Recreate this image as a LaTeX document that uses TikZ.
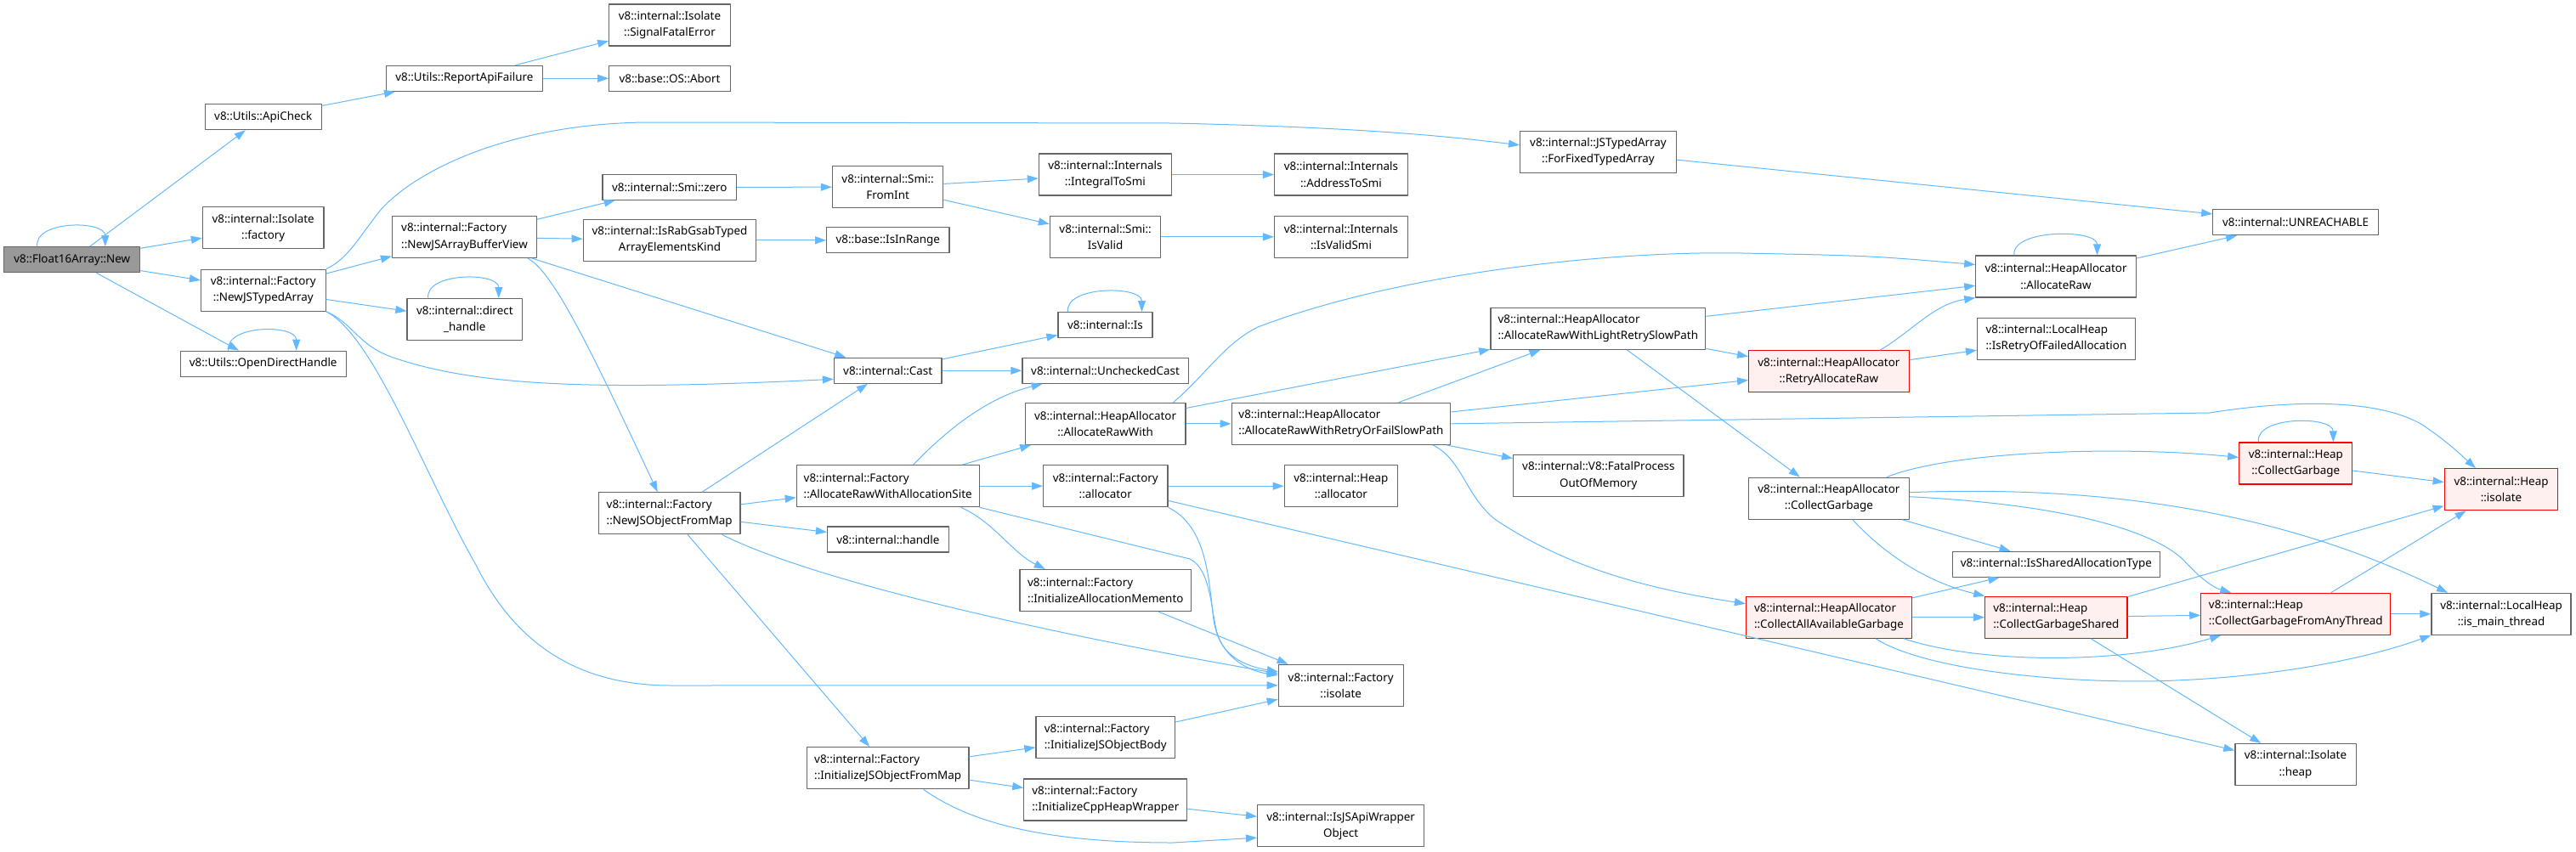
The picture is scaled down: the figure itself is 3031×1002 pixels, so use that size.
\documentclass[tikz,border=0pt]{standalone}
\usepackage{fontspec}
\setmainfont{Noto Sans}
\usetikzlibrary{arrows.meta}
\definecolor{callblue}{HTML}{63B8FF}
\definecolor{boxgray}{HTML}{666666}
\definecolor{rootgray}{HTML}{999999}
\definecolor{hotred}{HTML}{FF0000}
\definecolor{hotfill}{HTML}{FFF0F0}
\newcommand{\graphfont}{\fontsize{6.7pt}{9.65pt}\selectfont}

\begin{document}
\begin{tikzpicture}[
  x=0.5pt,
  y=-0.5pt,
  line join=round,
  fn/.style={draw=boxgray,fill=white,line width=0.6pt,inner xsep=2pt,inner ysep=0pt,
    font=\graphfont,align=center,minimum height=15pt},
  fnl/.style={fn,align=left},
  two/.style={minimum height=24.5pt},
  root/.style={fill=rootgray},
  hot/.style={draw=hotred,fill=hotfill},
  call/.style={draw=callblue,line width=0.5pt,-{Triangle[length=6.5pt,width=4.5pt]}}
]
  % Match the artwork frame (pixel grid of the graph).
  \useasboundingbox (0,0) rectangle (3031,1002);

  % Column 1 and 2: the caller and its direct callees.
  \node[fn,root,minimum width=80pt] (new) at (84.8,305.7) {v8::Float16Array::New};
  \node[fn,minimum width=68.4pt] (apicheck) at (309.7,137.7) {v8::Utils::ApiCheck};
  \node[fn,two,minimum width=71.3pt] (isofactory) at (309.7,268.2) {v8::internal::Isolate\\::factory};
  \node[fn,two,minimum width=73.3pt] (newtyped) at (309.8,341.7) {v8::internal::Factory\\::NewJSTypedArray};
  \node[fn,minimum width=97.5pt] (opendirect) at (309.7,428.3) {v8::Utils::OpenDirectHandle};

  % Column 3.
  \node[fn,minimum width=91.7pt] (reportfail) at (546.4,92.3) {v8::Utils::ReportApiFailure};
  \node[fnl,two,minimum width=85pt] (newbufview) at (546.5,279) {v8::internal::Factory\\::NewJSArrayBufferView};
  \node[fn,two,minimum width=67.8pt] (directhandle) at (546.8,376.2) {v8::internal::direct\\\_handle};

  % Column 4.
  \node[fn,two,minimum width=71.3pt] (signalfatal) at (788,29.5) {v8::internal::Isolate\\::SignalFatalError};
  \node[fn,minimum width=71.3pt] (osabort) at (788,92.3) {v8::base::OS::Abort};
  \node[fn,minimum width=78.8pt] (smizero) at (787.8,220.3) {v8::internal::Smi::zero};
  \node[fn,two,minimum width=101.8pt] (israbgsab) at (788,282.8) {v8::internal::IsRabGsabTyped\\ArrayElementsKind};
  \node[fnl,two,minimum width=83.2pt] (newobjmap) at (787.7,604.3) {v8::internal::Factory\\::NewJSObjectFromMap};

  % Column 5.
  \node[fn,two,minimum width=65.2pt] (fromint) at (1044.6,220.2) {v8::internal::Smi::\\FromInt};
  \node[fn,minimum width=72.2pt] (isinrange) at (1044.8,282.8) {v8::base::IsInRange};
  \node[fn,minimum width=63.3pt] (cast) at (1044.7,436.3) {v8::internal::Cast};
  \node[fnl,two,minimum width=107.4pt] (allocsite) at (1044.7,572.2) {v8::internal::Factory\\::AllocateRawWithAllocationSite};
  \node[fn,minimum width=71.3pt] (handle) at (1044.8,635) {v8::internal::handle};
  \node[fnl,two,minimum width=95.3pt] (initobjmap) at (1044.6,904.2) {v8::internal::Factory\\::InitializeJSObjectFromMap};

  % Column 6.
  \node[fn,two,minimum width=78pt] (integraltosmi) at (1300.4,205.5) {v8::internal::Internals\\::IntegralToSmi};
  \node[fn,two,minimum width=65.2pt] (smiisvalid) at (1300.6,278.8) {v8::internal::Smi::\\IsValid};
  \node[fn,minimum width=55.5pt] (is) at (1300.5,382.7) {v8::internal::Is};
  \node[fn,minimum width=97.7pt] (uncheckedcast) at (1300.6,436.3) {v8::internal::UncheckedCast};
  \node[fn,two,minimum width=94.3pt] (allocrawwith) at (1300.6,498.8) {v8::internal::HeapAllocator\\::AllocateRawWith};
  \node[fn,two,minimum width=73.2pt] (factalloc) at (1300.8,572.2) {v8::internal::Factory\\::allocator};
  \node[fnl,two,minimum width=100.8pt] (initmemento) at (1300.8,695) {v8::internal::Factory\\::InitializeAllocationMemento};
  \node[fnl,two,minimum width=81.9pt] (initbody) at (1300.8,868.3) {v8::internal::Factory\\::InitializeJSObjectBody};
  \node[fnl,two,minimum width=96pt] (initcpp) at (1300.8,941.5) {v8::internal::Factory\\::InitializeCppHeapWrapper};

  % Column 7.
  \node[fn,two,minimum width=78.5pt] (addresstosmi) at (1578,205.5) {v8::internal::Internals\\::AddressToSmi};
  \node[fn,two,minimum width=78.5pt] (isvalidsmi) at (1578,278.8) {v8::internal::Internals\\::IsValidSmi};
  \node[fnl,two,minimum width=128.8pt] (retryorfail) at (1577.9,498.8) {v8::internal::HeapAllocator\\::AllocateRawWithRetryOrFailSlowPath};
  \node[fn,two,minimum width=66.7pt] (heapalloc) at (1577.9,572.2) {v8::internal::Heap\\::allocator};
  \node[fn,two,minimum width=73.4pt] (factisolate) at (1577.7,806.8) {v8::internal::Factory\\::isolate};
  \node[fn,two,minimum width=98pt] (isapiwrapper) at (1577.6,972.2) {v8::internal::IsJSApiWrapper\\Object};

  % Column 8.
  \node[fn,two,minimum width=91.9pt] (fixedtyped) at (1880.5,178.8) {v8::internal::JSTypedArray\\::ForFixedTypedArray};
  \node[fnl,two,minimum width=126.4pt] (lightretry) at (1880.3,386.8) {v8::internal::HeapAllocator\\::AllocateRawWithLightRetrySlowPath};
  \node[fn,two,minimum width=100.2pt] (fatalprocess) at (1880.8,560) {v8::internal::V8::FatalProcess\\OutOfMemory};

  % Column 9.
  \node[fn,hot,two,minimum width=94.3pt] (retryraw) at (2151.9,437.3) {v8::internal::HeapAllocator\\::RetryAllocateRaw};
  \node[fn,two,minimum width=94.3pt] (hacollect) at (2151.9,586.7) {v8::internal::HeapAllocator\\::CollectGarbage};
  \node[fnl,hot,two,minimum width=97.5pt] (collectall) at (2152,726.7) {v8::internal::HeapAllocator\\::CollectAllAvailableGarbage};

  % Column 10.
  \node[fn,two,minimum width=94.2pt] (allocraw) at (2419,325.5) {v8::internal::HeapAllocator\\::AllocateRaw};
  \node[fnl,two,minimum width=92.9pt] (isretryfailed) at (2419.4,398.8) {v8::internal::LocalHeap\\::IsRetryOfFailedAllocation};
  \node[fn,minimum width=122.2pt] (issharedtype) at (2419.3,664.3) {v8::internal::IsSharedAllocationType};
  \node[fnl,hot,two,minimum width=83.6pt] (gcshared) at (2419.4,726.7) {v8::internal::Heap\\::CollectGarbageShared};

  % Column 11 and 12.
  \node[fn,minimum width=97.2pt] (unreachable) at (2701,261.7) {v8::internal::UNREACHABLE};
  \node[fn,hot,two,minimum width=66.5pt] (heapcollect) at (2701.3,545.5) {v8::internal::Heap\\::CollectGarbage};
  \node[fnl,hot,two,minimum width=111.5pt] (anythread) at (2701.3,722.8) {v8::internal::Heap\\::CollectGarbageFromAnyThread};
  \node[fn,two,minimum width=71.1pt] (isolateheap) at (2701,900) {v8::internal::Isolate\\::heap};
  \node[fn,hot,two,minimum width=66.8pt] (heapisolate) at (2943,576.2) {v8::internal::Heap\\::isolate};
  \node[fn,two,minimum width=82pt] (mainthread) at (2943,722.8) {v8::internal::LocalHeap\\::is\_main\_thread};

  % Straight calls, centre to centre.
  \foreach \from/\to in {new/apicheck,new/isofactory,new/newtyped,new/opendirect,
      apicheck/reportfail,reportfail/signalfatal,reportfail/osabort,
      newtyped/newbufview,newtyped/directhandle,
      newbufview/smizero,newbufview/israbgsab,newbufview/cast,
      smizero/fromint,israbgsab/isinrange,fromint/integraltosmi,fromint/smiisvalid,
      integraltosmi/addresstosmi,smiisvalid/isvalidsmi,fixedtyped/unreachable,
      cast/is,cast/uncheckedcast,
      newobjmap/cast,newobjmap/allocsite,newobjmap/handle,newobjmap/initobjmap,
      allocsite/allocrawwith,allocsite/factalloc,factalloc/heapalloc,factalloc/isolateheap,
      initmemento/factisolate,initbody/factisolate,
      initobjmap/initbody,initobjmap/initcpp,initcpp/isapiwrapper,
      allocrawwith/lightretry,allocrawwith/retryorfail,
      retryorfail/lightretry,retryorfail/retryraw,retryorfail/fatalprocess,
      lightretry/allocraw,lightretry/retryraw,lightretry/hacollect,
      retryraw/isretryfailed,allocraw/unreachable,hacollect/issharedtype,
      collectall/issharedtype,collectall/gcshared,
      gcshared/heapisolate,gcshared/anythread,gcshared/isolateheap,
      heapcollect/heapisolate,anythread/heapisolate,anythread/mainthread} {
    \draw[call] (\from) -- (\to);
  }

  % Recursive calls.
  \foreach \n/\l/\r in {new/-20.5pt/19.5pt,opendirect/-20.5pt/19.5pt,directhandle/-21.5pt/20pt,
      is/-22pt/21.5pt,allocraw/-24.5pt/24.3pt,heapcollect/-22pt/22pt} {
    \draw[call] ([xshift=\l]\n.north) .. controls +(-4,-31) and +(0,-31) .. ([xshift=\r]\n.north);
  }

  % Routed calls, left part of the graph.
  \draw[call] (newtyped.north east) .. controls (410,305) and (425,275) .. (448,247)
    .. controls (490,200) and (600,146) .. (760,144) -- (1380,145)
    .. controls (1600,150) and (1700,160) .. ([yshift=4pt]fixedtyped.west);
  \draw[call] (newtyped.south east) .. controls (415,380) and (420,405) .. (460,420)
    .. controls (560,455) and (700,460) .. ([yshift=-5pt]cast.west);
  \draw[call] (newtyped.south east) .. controls (440,395) and (500,560) .. (560,665)
    .. controls (615,775) and (700,807) .. (790,807) -- (factisolate.west);
  \draw[call] ([xshift=-5.5pt]newbufview.south east) .. controls (650,320) and (690,400)
    .. ([xshift=-7pt]newobjmap.north);
  \draw[call] ([xshift=15pt]allocsite.north) .. controls (1110,510) and (1160,468)
    .. ([xshift=-37pt]uncheckedcast.south);
  \draw[call] ([xshift=-11pt]newobjmap.south east) .. controls (950,680) and (1200,740)
    .. ([yshift=7pt]factisolate.west);
  \draw[call] ([xshift=43pt]allocsite.south) .. controls (1170,615) and (1190,650)
    .. ([xshift=-35.5pt]initmemento.north);
  \draw[call] (allocsite.south east) -- (1400,658) .. controls (1425,670) and (1425,720) .. (1432,745)
    .. controls (1440,775) and (1470,785) .. ([yshift=8pt]factisolate.west);
  \draw[call] (factalloc.south east) .. controls (1420,620) and (1422,680) .. (1428,730)
    .. controls (1435,775) and (1470,790) .. ([yshift=6pt]factisolate.west);
  \draw[call] ([xshift=21pt]initobjmap.south) .. controls (1150,975) and (1250,992) .. (1380,992)
    -- ([yshift=-7pt]isapiwrapper.west);

  % Routed calls, heap allocator part.
  \draw[call] ([xshift=-7.5pt]allocrawwith.north east) .. controls (1420,440) and (1440,405) .. (1480,385)
    .. controls (1650,320) and (1900,295) .. (2050,298)
    .. controls (2200,301) .. ([yshift=7pt]allocraw.west);
  \draw[call] (retryorfail.east) -- (2600,486) .. controls (2700,470) and (2800,470) .. (2850,500)
    .. controls (2880,520) and (2895,535) .. ([xshift=-15pt]heapisolate.north);
  \draw[call] ([xshift=-10.7pt]retryorfail.south east) .. controls (1720,540) and (1725,585) .. (1760,612)
    .. controls (1850,672) and (1950,695) .. ([yshift=8pt]collectall.west);
  \draw[call] ([xshift=30pt]retryraw.north) .. controls (2250,390) and (2275,358) .. (allocraw.south west);
  \draw[call] ([xshift=34pt]hacollect.north) .. controls (2300,530) and (2500,525)
    .. ([yshift=3.5pt]heapcollect.west);
  \draw[call] ([yshift=3.5pt]hacollect.east) .. controls (2500,570) and (2700,610)
    .. ([xshift=-31.5pt]mainthread.north);
  \draw[call] ([yshift=1pt]hacollect.east) .. controls (2450,595) and (2540,630) .. (2570,660)
    .. controls (2590,682) and (2605,692) .. ([xshift=-38pt]anythread.north);
  \draw[call] ([xshift=14pt]hacollect.south) .. controls (2215,650) and (2265,685) .. (gcshared.north west);
  \draw[call] ([xshift=-5pt]collectall.south east) .. controls (2330,782) and (2500,782)
    .. ([xshift=12pt]anythread.south west);
  \draw[call] ([xshift=27.5pt]collectall.south) .. controls (2270,792) and (2450,806) .. (2560,801)
    .. controls (2700,795) and (2800,770) .. (mainthread.south west);
\end{tikzpicture}
\end{document}
